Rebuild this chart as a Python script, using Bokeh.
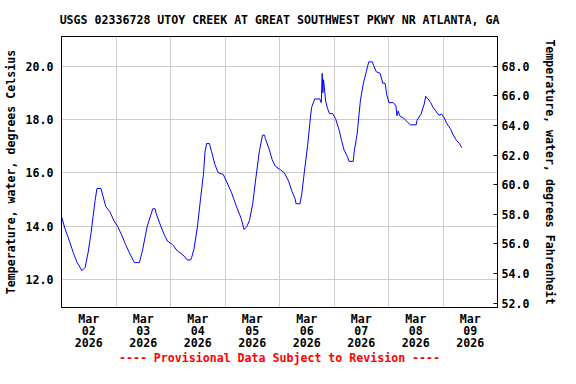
from bokeh.plotting import figure
from bokeh.models import Range1d, LinearAxis, FixedTicker, PrintfTickFormatter
from bokeh.embed import file_html
from bokeh.resources import INLINE

# hours since 2026-03-02 00:00
hours = [0.0, 1.7, 3.5, 5.2, 6.9, 9.0, 10.4, 11.7, 13.0, 13.9, 14.8, 15.6, 17.4, 18.2, 19.5,
         21.3, 23.0, 24.7, 26.5, 28.2, 29.9, 32.1, 34.3, 35.6, 37.7, 40.2, 41.2, 41.7, 43.8,
         45.3, 46.7, 48.9, 51.1, 53.3, 55.4, 56.9, 57.3, 58.3, 59.9, 61.3, 62.5, 63.2, 63.9,
         65.1, 66.1, 67.6, 69.0, 71.2, 72.6, 74.8, 76.9, 79.1, 80.4, 81.6, 82.8, 84.2, 85.6,
         87.1, 88.5, 89.4, 89.8, 91.3, 92.8, 94.2, 96.3, 98.1, 100.0, 101.4, 102.9, 103.3,
         105.0, 105.8, 106.9, 108.4, 109.4, 110.1, 111.5, 113.7, 114.4, 114.8, 115.1, 115.4,
         115.9, 116.3, 117.2, 118.0, 119.4, 120.8, 122.3, 123.3, 124.4, 125.9, 126.6, 128.5,
         128.8, 130.2, 131.6, 132.8, 134.2, 135.3, 136.9, 137.4, 138.6, 140.3, 141.5, 142.5,
         143.2, 144.2, 146.1, 147.3, 147.7, 148.3, 148.9, 150.7, 152.5, 153.6, 156.2, 156.5,
         158.3, 159.7, 160.4, 161.4, 162.6, 163.7, 164.8, 166.2, 167.4, 168.4, 169.8, 171.3,
         172.4, 173.9, 175.2, 176.3]

temp_c = [14.35, 13.86, 13.44, 13.00, 12.63, 12.33, 12.45, 13.00, 13.73, 14.36, 14.96, 15.41,
          15.41, 15.14, 14.73, 14.54, 14.22, 13.99, 13.67, 13.31, 13.00, 12.63, 12.63, 13.06,
          13.98, 14.65, 14.65, 14.47, 13.98, 13.67, 13.43, 13.31, 13.06, 12.94, 12.73, 12.73,
          12.82, 13.12, 14.0, 15.08, 15.94, 16.79, 17.10, 17.10, 16.79, 16.30, 16.00, 15.94,
          15.69, 15.27, 14.77, 14.29, 13.87, 13.98, 14.22, 14.84, 15.81, 16.79, 17.41, 17.41,
          17.28, 16.92, 16.49, 16.24, 16.12, 16.00, 15.69, 15.32, 15.02, 14.84, 14.84, 15.20,
          16.00, 17.04, 17.89, 18.44, 18.77, 18.77, 18.63, 19.73, 19.00, 19.49, 19.06, 18.69,
          18.40, 18.22, 18.22, 18.00, 17.59, 17.22, 16.86, 16.61, 16.43, 16.43, 16.73, 17.47,
          18.69, 19.30, 19.79, 20.16, 20.16, 20.04, 19.79, 19.73, 19.36, 19.36, 18.94, 18.63,
          18.63, 18.51, 18.14, 18.32, 18.14, 18.04, 17.89, 17.80, 17.80, 17.96, 18.20, 18.57,
          18.87, 18.77, 18.63, 18.44, 18.32, 18.16, 18.20, 18.08, 17.83, 17.65, 17.43, 17.22,
          17.10, 16.94]

day_labels = ["Mar\n02\n2026", "Mar\n03\n2026", "Mar\n04\n2026", "Mar\n05\n2026",
              "Mar\n06\n2026", "Mar\n07\n2026", "Mar\n08\n2026", "Mar\n09\n2026"]
c_ticks = [12, 14, 16, 18, 20]
f_ticks = [52, 54, 56, 58, 60, 62, 64, 66, 68]

title_text = "USGS 02336728 UTOY CREEK AT GREAT SOUTHWEST PKWY NR ATLANTA, GA"
left_label = "Temperature, water, degrees Celsius"
right_label = "Temperature, water, degrees Fahrenheit"
footer = "---- Provisional Data Subject to Revision ----"

FONT = "DejaVu Sans Mono"
FS = "11.6px"

c_lo, c_hi = 10.947, 21.112

p = figure(width=560, height=368, output_backend="svg", toolbar_location=None,
           x_range=Range1d(0, 192), y_range=Range1d(c_lo, c_hi),
           min_border_left=58, min_border_right=59, min_border_top=34, min_border_bottom=61,
           title=title_text)

p.title.align = "center"
p.title.text_font = FONT
p.title.text_font_size = FS
p.title.text_font_style = "bold"
p.title.text_color = "black"
p.title.standoff = 20

p.outline_line_color = "black"
p.outline_line_width = 1

p.extra_y_ranges = {"F": Range1d(c_lo * 1.8 + 32, c_hi * 1.8 + 32)}

p.line(hours, temp_c, line_color="#0000FF", line_width=1)

# x axis: day labels centred on each day, footer as the axis label
label_pos = [12 + 24 * i for i in range(len(day_labels))]
xa = p.xaxis[0]
xa.ticker = FixedTicker(ticks=label_pos)
xa.major_label_overrides = {t: lab for t, lab in zip(label_pos, day_labels)}
xa.major_tick_in = 0
xa.major_tick_out = 0
xa.minor_tick_in = 0
xa.minor_tick_out = 0
xa.major_label_standoff = 4
xa.major_label_text_font = FONT
xa.major_label_text_font_size = FS
xa.major_label_text_font_style = "bold"
xa.major_label_text_color = "black"
xa.major_label_text_line_height = 0.86
xa.axis_label = footer
xa.axis_label_text_font = FONT
xa.axis_label_text_font_size = FS
xa.axis_label_text_font_style = "bold"
xa.axis_label_text_color = "#FF0000"
xa.axis_label_standoff = -2
xa.axis_line_color = "black"

p.xgrid.ticker = FixedTicker(ticks=[24 * i for i in range(1, 8)])
p.xgrid.grid_line_color = "#CCCCCC"

# left axis
ya = p.yaxis[0]
ya.ticker = FixedTicker(ticks=c_ticks)
ya.formatter = PrintfTickFormatter(format="%.1f")
ya.major_tick_in = 0
ya.major_tick_out = 0
ya.minor_tick_in = 0
ya.minor_tick_out = 0
ya.major_label_standoff = 8
ya.major_label_text_font = FONT
ya.major_label_text_font_size = FS
ya.major_label_text_font_style = "bold"
ya.major_label_text_color = "black"
ya.axis_label = left_label
ya.axis_label_text_font = FONT
ya.axis_label_text_font_size = FS
ya.axis_label_text_font_style = "bold"
ya.axis_label_text_color = "black"
ya.axis_label_standoff = 5
ya.axis_line_color = "black"

p.ygrid.grid_line_color = "#CCCCCC"

# right axis (Fahrenheit)
ra = LinearAxis(y_range_name="F")
ra.ticker = FixedTicker(ticks=f_ticks)
ra.formatter = PrintfTickFormatter(format="%.1f")
ra.major_tick_in = 4
ra.major_tick_out = 0
ra.minor_tick_in = 0
ra.minor_tick_out = 0
ra.major_tick_line_color = "black"
ra.major_label_standoff = 4
ra.major_label_text_font = FONT
ra.major_label_text_font_size = FS
ra.major_label_text_font_style = "bold"
ra.major_label_text_color = "black"
ra.axis_label = right_label
ra.axis_label_text_font = FONT
ra.axis_label_text_font_size = FS
ra.axis_label_text_font_style = "bold"
ra.axis_label_text_color = "black"
ra.axis_label_standoff = 11
ra.axis_line_color = "black"
p.add_layout(ra, "right")

open("out.html", "w").write(file_html(p, INLINE))
